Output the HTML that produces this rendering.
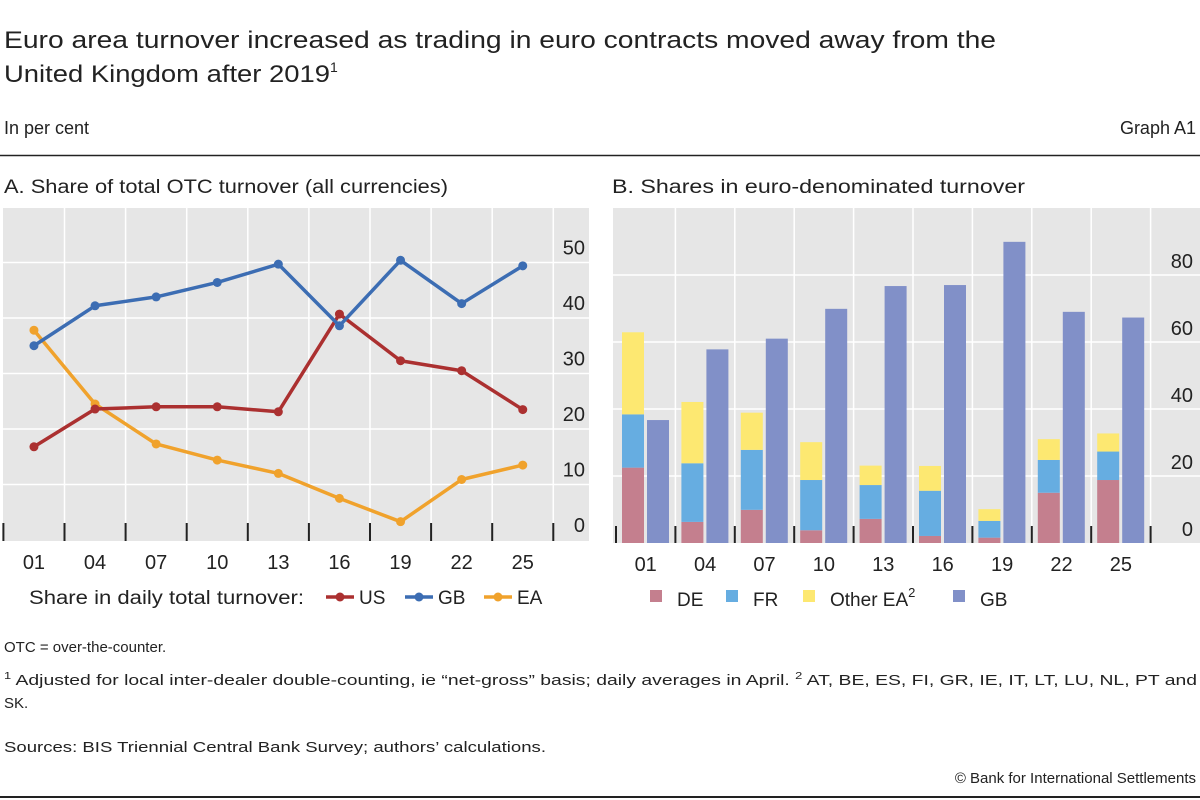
<!DOCTYPE html>
<html><head><meta charset="utf-8">
<style>
html,body{margin:0;padding:0;background:#fff;}
svg{display:block;font-family:"Liberation Sans",sans-serif;}
</style></head>
<body>
<svg id="chart" width="1200" height="800" viewBox="0 0 1200 800" xmlns="http://www.w3.org/2000/svg">
<text x="4" y="48" font-size="24" fill="#222" textLength="992" lengthAdjust="spacingAndGlyphs">Euro area turnover increased as trading in euro contracts moved away from the</text>
<text x="4" y="82" font-size="24" fill="#222"><tspan textLength="326" lengthAdjust="spacingAndGlyphs">United Kingdom after 2019</tspan><tspan font-size="14" dy="-10">1</tspan></text>
<text x="4" y="134" font-size="18" fill="#222">In per cent</text>
<text x="1196" y="134" font-size="18" fill="#222" text-anchor="end">Graph A1</text>
<line x1="0" y1="155.5" x2="1200" y2="155.5" stroke="#222" stroke-width="1.5"/>
<text x="4" y="193" font-size="19" fill="#222" textLength="444" lengthAdjust="spacingAndGlyphs">A. Share of total OTC turnover (all currencies)</text>
<text x="612" y="193" font-size="19" fill="#222" textLength="413" lengthAdjust="spacingAndGlyphs">B. Shares in euro-denominated turnover</text>
<rect x="3" y="208" width="586" height="333" fill="#e6e6e6"/>
<rect x="613" y="208" width="587" height="335" fill="#e6e6e6"/>
<g id="pa"></g>
<g id="pb"></g>
<text x="4" y="652" font-size="15" fill="#222">OTC = over-the-counter.</text>
<text x="4" y="685" font-size="15" fill="#222" textLength="1193" lengthAdjust="spacingAndGlyphs"><tspan font-size="10" dy="-6">1</tspan><tspan dy="6">  Adjusted for local inter-dealer double-counting, ie “net-gross” basis; daily averages in April.    </tspan><tspan font-size="10" dy="-6">2</tspan><tspan dy="6">  AT, BE, ES, FI, GR, IE, IT, LT, LU, NL, PT and</tspan></text>
<text x="4" y="708" font-size="15" fill="#222">SK.</text>
<text x="4" y="752" font-size="15" fill="#222" textLength="542" lengthAdjust="spacingAndGlyphs">Sources: BIS Triennial Central Bank Survey; authors’ calculations.</text>
<text x="1196" y="783" font-size="15" fill="#222" text-anchor="end">© Bank for International Settlements</text>
<line x1="0" y1="797" x2="1200" y2="797" stroke="#222" stroke-width="2"/>
</svg>
<script>
const years = ["01","04","07","10","13","16","19","22","25"];
const usShare = [16.8,23.6,24.0,24.0,23.1,40.7,32.3,30.5,23.5];
const gbShare = [35.0,42.2,43.8,46.4,49.7,38.6,50.4,42.6,49.4];
const eaShare = [37.8,24.5,17.3,14.4,12.0,7.5,3.3,10.9,13.5];
const aTicks = [0,10,20,30,40,50];
const deEuro = [22.5,6.3,9.9,3.8,7.2,2.1,1.6,15.0,18.8];
const frEuro = [15.9,17.5,17.9,15.0,10.1,13.5,5.0,9.8,8.5];
const otherEaEuro = [24.5,18.3,11.1,11.3,5.8,7.4,3.5,6.2,5.4];
const gbEuro = [36.7,57.8,61.0,69.9,76.7,77.0,89.9,69.0,67.3];
const bTicks = [0,20,40,60,80];

const NS="http://www.w3.org/2000/svg";
function mk(tag,attrs,parent,txt){const e=document.createElementNS(NS,tag);for(const k in attrs)e.setAttribute(k,attrs[k]);if(txt!==undefined)e.textContent=txt;parent.appendChild(e);return e;}

// Panel A
const pa=document.getElementById('pa');
const ax0=3.4, astep=61.1, ay0=540, ayk=5.55;
const axX=i=>ax0+astep*(i+0.5);
const ayY=v=>ay0-v*ayk;
for(let i=1;i<=years.length;i++){
  const g=mk('line',{x1:ax0+astep*i,x2:ax0+astep*i,y1:208,y2:541,stroke:'#fff','stroke-width':1.5},pa);
  
  
}
aTicks.forEach(t=>{
  if(t>0){const g=mk('line',{x1:3,x2:589,y1:ayY(t),y2:ayY(t),stroke:'#fff','stroke-width':1.5},pa);
  
  }
  const l=mk('text',{x:585,y:ayY(t)-8,'font-size':20,fill:'#222','text-anchor':'end'},pa,String(t));
  
  
});
for(let i=0;i<=years.length;i++){
  const tk=mk('line',{x1:ax0+astep*i,x2:ax0+astep*i,y1:523,y2:541,stroke:'#222','stroke-width':2},pa);
  
  
}
years.forEach((y,i)=>{
  const l=mk('text',{x:axX(i),y:569,'font-size':20,fill:'#222','text-anchor':'middle'},pa,y);
  
  
});
function series(vals,color,name){
  const g=mk('g',{},pa);
  
  
  const p=mk('polyline',{points:vals.map((v,i)=>axX(i)+','+ayY(v)).join(' '),fill:'none',stroke:color,'stroke-width':3.5,'stroke-linejoin':'round'},g);
  
  
  vals.forEach((v,i)=>{
    const c=mk('circle',{cx:axX(i),cy:ayY(v),r:4.5,fill:color},g);
    
    
  });
}
series(eaShare,'#f0a22c','ea');
series(usShare,'#ab3030','us');
series(gbShare,'#3c6db3','gb');
const lgA=mk('g',{},pa);


mk('text',{x:29,y:604,'font-size':19,fill:'#222',textLength:275,lengthAdjust:'spacingAndGlyphs'},lgA,'Share in daily total turnover:');
[['US','#ab3030',326],['GB','#3c6db3',405],['EA','#f0a22c',484]].forEach(([n,c,x])=>{
  const e=mk('g',{},lgA);
  
  
  mk('line',{x1:x,x2:x+28,y1:597,y2:597,stroke:c,'stroke-width':3.5},e);
  mk('circle',{cx:x+14,cy:597,r:4.5,fill:c},e);
  mk('text',{x:x+33,y:604,'font-size':19,fill:'#222'},e,n);
});

// Panel B
const pb=document.getElementById('pb');
const bx0=616, bstep=59.4, by0=543, byk=3.35;
const bY=v=>by0-v*byk;
for(let i=1;i<=years.length;i++){
  const g=mk('line',{x1:bx0+bstep*i,x2:bx0+bstep*i,y1:208,y2:543,stroke:'#fff','stroke-width':1.5},pb);
  
  
}
bTicks.forEach(t=>{
  if(t>0){const g=mk('line',{x1:613,x2:1200,y1:bY(t),y2:bY(t),stroke:'#fff','stroke-width':1.5},pb);
  
  }
  const l=mk('text',{x:1193,y:bY(t)-7,'font-size':20,fill:'#222','text-anchor':'end'},pb,String(t));
  
  
});
years.forEach((y,i)=>{
  const gx=bx0+bstep*i;
  let base=0;
  [[deEuro,'#c47f8e','de'],[frEuro,'#66ade1','fr'],[otherEaEuro,'#fde871','other-ea']].forEach(([arr,c,n])=>{
    const v=arr[i];
    const r=mk('rect',{x:gx+6,y:bY(base+v),width:22,height:v*byk,fill:c},pb);
    
    
    base+=v;
  });
  const r=mk('rect',{x:gx+31,y:bY(gbEuro[i]),width:22,height:gbEuro[i]*byk,fill:'#8190c8'},pb);
  
  
  const l=mk('text',{x:gx+bstep/2,y:571,'font-size':20,fill:'#222','text-anchor':'middle'},pb,y);
  
  
});
for(let i=0;i<=years.length;i++){
  const tk=mk('line',{x1:bx0+bstep*i,x2:bx0+bstep*i,y1:526,y2:543,stroke:'#222','stroke-width':2},pb);
  
  
}
const lgB=mk('g',{},pb);


[['DE','#c47f8e',650],['FR','#66ade1',726],['Other EA','#fde871',803],['GB','#8190c8',953]].forEach(([n,c,x])=>{
  const e=mk('g',{},lgB);
  
  
  mk('rect',{x:x,y:590,width:12,height:12,fill:c},e);
  const t=mk('text',{x:x+27,y:606,'font-size':19,fill:'#222'},e,n);
  if(n==='Other EA'){mk('tspan',{'font-size':13,dy:-9},t,'2');}
});
</script>
</body></html>
